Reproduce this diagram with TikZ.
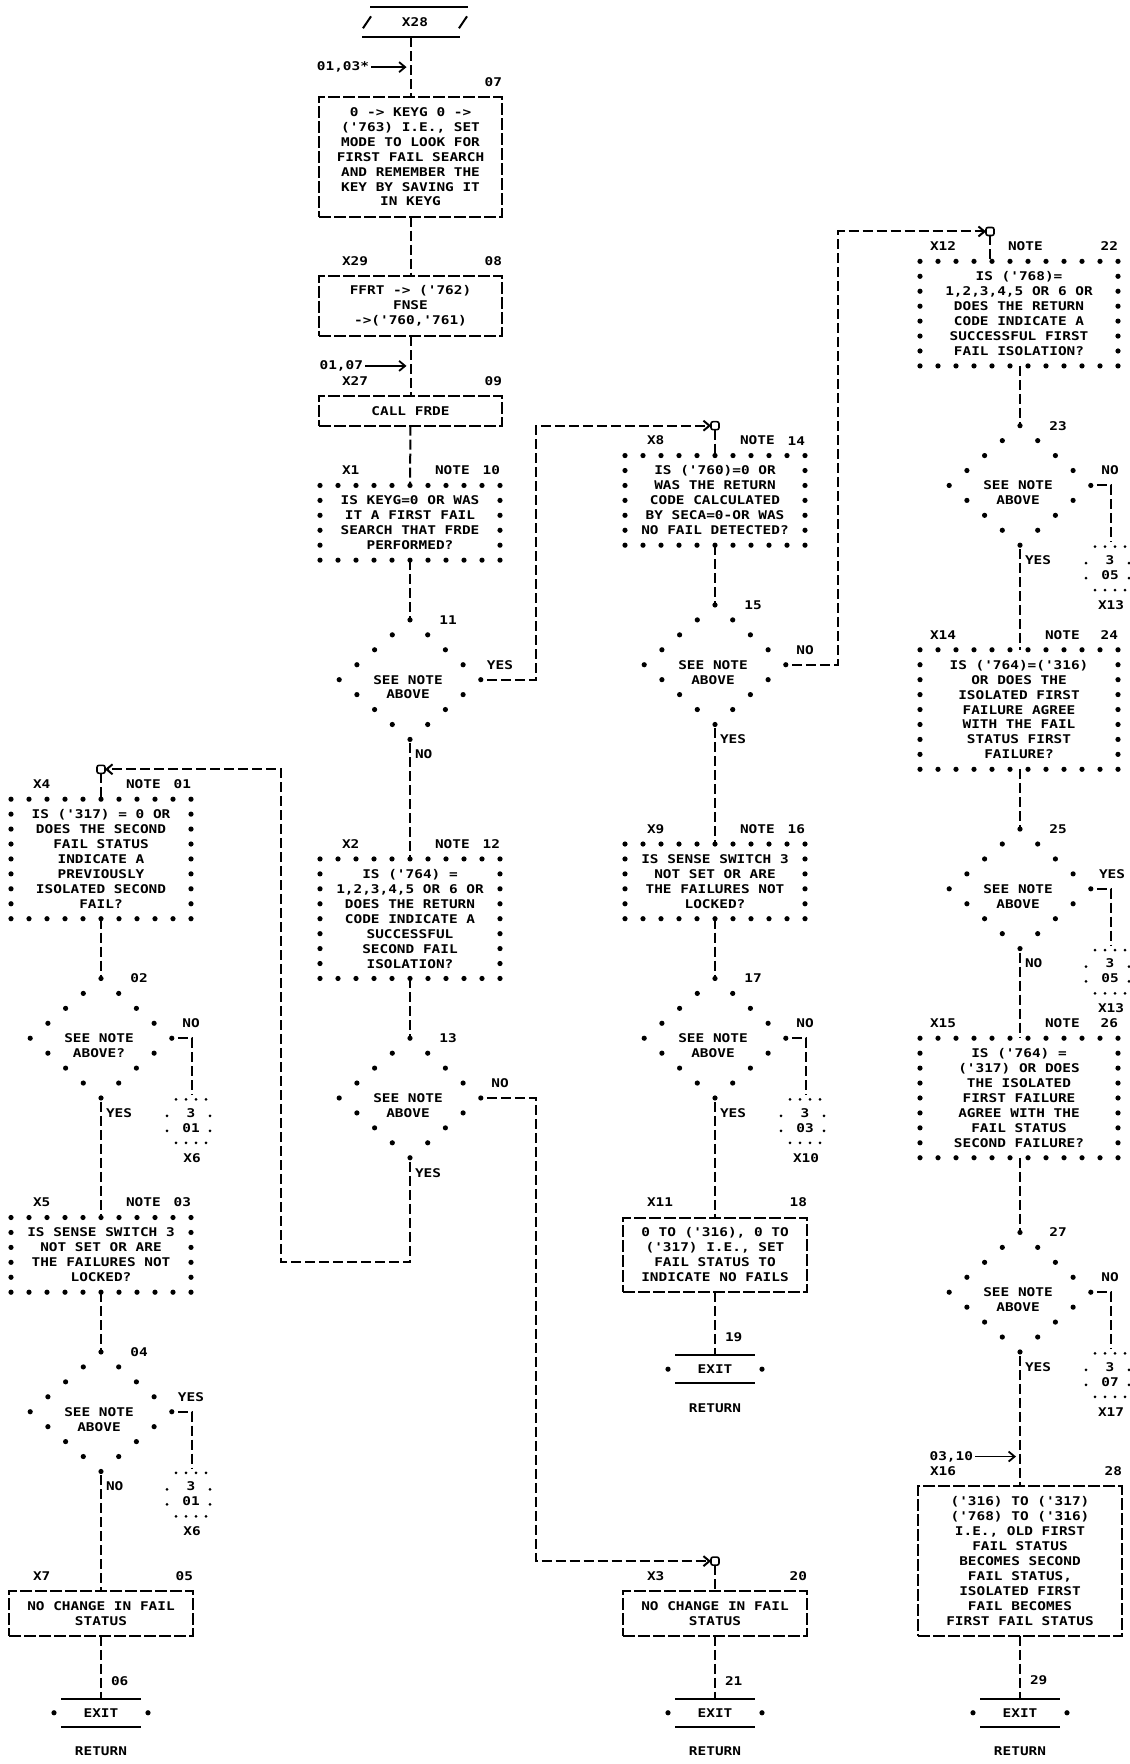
\documentclass[tikz,border=0pt]{standalone}
\usepackage{fontspec}
\newfontfamily\lpfont{DejaVu Sans Mono}[FakeStretch=1.2]
\usetikzlibrary{arrows.meta}
\newcommand{\ndots}[4]{%
  \foreach \ii in {0,...,#2}{%
    \fill ({#1+18*\ii},#3) circle[radius=1.3pt];
    \fill ({#1+18*\ii},#4) circle[radius=1.3pt];}
  \pgfmathtruncatemacro{\ra}{#3+1}%
  \pgfmathtruncatemacro{\rb}{#4-1}%
  \foreach \jj in {\ra,...,\rb}{%
    \fill (#1,\jj) circle[radius=1.3pt];
    \fill ({#1+18*#2},\jj) circle[radius=1.3pt];}%
}
\newcommand{\dmdots}[2]{%
  \fill (#1,{#2-4}) circle[radius=1.3pt];
  \fill (#1,{#2+4}) circle[radius=1.3pt];
  \foreach \kk/\dd in {1/17.7,2/35.4,3/53.1,4/70.8,5/53.1,6/35.4,7/17.7}{%
    \fill ({#1-\dd},{#2-4+\kk}) circle[radius=1.3pt];
    \fill ({#1+\dd},{#2-4+\kk}) circle[radius=1.3pt];}%
}
\newcommand{\offpg}[5]{%
  \coordinate (#1t) at ({#2+91},{#3+3.8});
  \node[align=center] (#1) at ({#2+90},{#3+5.5}) {3\\#4};
  \node (#1x) at ({#2+91},{#3+8}) {#5};
  \foreach \xx in {75,85,95,105}{%
    \fill ({#2+\xx},{#3+4.1}) circle[radius=0.75pt];
    \fill ({#2+\xx},{#3+7}) circle[radius=0.75pt];}
  \foreach \yy in {5.2,6.2}{%
    \fill ({#2+66},{#3+\yy}) circle[radius=0.75pt];
    \fill ({#2+109},{#3+\yy}) circle[radius=0.75pt];}%
}
\newcommand{\exitbox}[4]{%
  \node[minimum width=40pt, minimum height=14.2pt] (#1) at (#2,#3) {EXIT};
  \draw[line width=1pt] (#1.north west) -- (#1.north east);
  \draw[line width=1pt] (#1.south west) -- (#1.south east);
  \fill ([xshift=-3.5pt]#1.west) circle[radius=1.3pt];
  \fill ([xshift=3.5pt]#1.east) circle[radius=1.3pt];
  \node (#1r) at (#2,{#3+2.6}) {RETURN};
  \node[anchor=west] (#1n) at ({#2+10},{#3-2.15}) {#4};
}
\begin{document}
\begin{tikzpicture}[x=0.5pt,y=-7.47pt,
  every node/.style={font={\lpfont\bfseries\fontsize{6}{7.47}\selectfont}, inner sep=0pt, outer sep=0pt},
  conn/.style={line width=1pt, dash pattern=on 5pt off 2pt},
  pbox/.style={draw, line width=1pt, dash pattern=on 6pt off 1.5pt, align=center},
  nbox/.style={align=center, minimum width=90pt},
  dbox/.style={minimum width=70.8pt, minimum height=59.76pt},
  oc/.style={draw, solid, line width=0.8pt, minimum size=4pt, rounded corners=1pt},
  arr/.style={-{Straight Barb[length=3pt,width=5pt]}}]
\useasboundingbox (0,-6.4926) rectangle (1130,111.58);
\fill[white] (0,-6.4926) rectangle (1130,111.58);

% ===== Column A =====
\node[minimum width=49pt, minimum height=14.94pt] (t28) at (415,-5) {X28};
\draw[line width=1pt] (370,-6) -- (468,-6);
\draw[line width=1pt] (362,-4) -- (460,-4);
\draw[line width=1pt] (363,-4.6) -- (371,-5.4);
\draw[line width=1pt] (459,-4.6) -- (467,-5.4);
\node[anchor=east] (l1) at (369,-2) {01,03*};
\node[anchor=east] (n07) at (502,-1) {07};
\node[pbox, minimum width=91.5pt, minimum height=59.76pt] (b07) at (410.5,4) {0 -> KEYG 0 ->\\('763) I.E., SET\\MODE TO LOOK FOR\\FIRST FAIL SEARCH\\AND REMEMBER THE\\KEY BY SAVING IT\\IN KEYG};
\node[anchor=west] (x29) at (342,11) {X29};
\node[anchor=east] (n08) at (502,11) {08};
\node[pbox, minimum width=91.5pt, minimum height=29.88pt] (b08) at (410.5,14) {FFRT -> ('762)\\FNSE\\->('760,'761)};
\node[anchor=east] (l2) at (363,18) {01,07};
\node[anchor=west] (x27) at (342,19) {X27};
\node[anchor=east] (n09) at (502,19) {09};
\node[pbox, minimum width=91.5pt, minimum height=14.94pt] (b09) at (410.5,21) {CALL FRDE};
\node[anchor=west] (x1) at (342,25) {X1};
\node[anchor=west] (nt10) at (435,25) {NOTE};
\node[anchor=east] (nn10) at (500,25) {10};
\node[nbox, minimum height=37.35pt] (n10) at (410,28.5) {IS KEYG=0 OR WAS\\IT A FIRST FAIL\\SEARCH THAT FRDE\\PERFORMED?};
\ndots{320}{10}{26}{31}
\node[dbox] (d11) at (410,39) {};
\node[align=center] (d11t) at (408,39.5) {SEE NOTE\\ABOVE};
\dmdots{410}{39}
\node (dn11) at (448,35) {11};
\node (y11) at (500,38) {YES};
\node[anchor=west] (no11) at (415,44) {NO};
\node[anchor=west] (x2) at (342,50) {X2};
\node[anchor=west] (nt12) at (435,50) {NOTE};
\node[anchor=east] (nn12) at (500,50) {12};
\node[nbox, minimum height=59.76pt] (n12) at (410,55) {IS ('764) =\\1,2,3,4,5 OR 6 OR\\DOES THE RETURN\\CODE INDICATE A\\SUCCESSFUL\\SECOND FAIL\\ISOLATION?};
\ndots{320}{10}{51}{59}
\node[dbox] (d13) at (410,67) {};
\node[align=center] (d13t) at (408,67.5) {SEE NOTE\\ABOVE};
\dmdots{410}{67}
\node (dn13) at (448,63) {13};
\node (no13) at (500,66) {NO};
\node[anchor=west] (y13) at (415,72) {YES};

% ===== Column B =====
\node[oc] (o01) at (101,45) {};
\node[anchor=west] (x4) at (33,46) {X4};
\node[anchor=west] (nt01) at (126,46) {NOTE};
\node[anchor=east] (nn01) at (191,46) {01};
\node[nbox, minimum height=59.76pt] (n01) at (101,51) {IS ('317) = 0 OR\\DOES THE SECOND\\FAIL STATUS\\INDICATE A\\PREVIOUSLY\\ISOLATED SECOND\\FAIL?};
\ndots{11}{10}{47}{55}
\node[dbox] (d02) at (101,63) {};
\node[align=center] (d02t) at (99,63.5) {SEE NOTE\\ABOVE?};
\dmdots{101}{63}
\node (dn02) at (139,59) {02};
\node (no02) at (191,62) {NO};
\node[anchor=west] (y02) at (106,68) {YES};
\offpg{c02}{101}{63}{01}{X6}
\node[anchor=west] (x5) at (33,74) {X5};
\node[anchor=west] (nt03) at (126,74) {NOTE};
\node[anchor=east] (nn03) at (191,74) {03};
\node[nbox, minimum height=37.35pt] (n03) at (101,77.5) {IS SENSE SWITCH 3\\NOT SET OR ARE\\THE FAILURES NOT\\LOCKED?};
\ndots{11}{10}{75}{80}
\node[dbox] (d04) at (101,88) {};
\node[align=center] (d04t) at (99,88.5) {SEE NOTE\\ABOVE};
\dmdots{101}{88}
\node (dn04) at (139,84) {04};
\node (y04) at (191,87) {YES};
\node[anchor=west] (no04) at (106,93) {NO};
\offpg{c04}{101}{88}{01}{X6}
\node[anchor=west] (x7) at (33,99) {X7};
\node[anchor=east] (nn05) at (193,99) {05};
\node[pbox, minimum width=92pt, minimum height=22.41pt] (b05) at (101,101.5) {NO CHANGE IN FAIL\\STATUS};
\exitbox{e06}{101}{108.15}{06}

% ===== Column C =====
\node[oc] (o14) at (715,22) {};
\node[anchor=west] (x8) at (647,23) {X8};
\node[anchor=west] (nt14) at (740,23) {NOTE};
\node[anchor=east] (nn14) at (805,23) {14};
\node[nbox, minimum height=44.82pt] (n14) at (715,27) {IS ('760)=0 OR\\WAS THE RETURN\\CODE CALCULATED\\BY SECA=0-OR WAS\\NO FAIL DETECTED?};
\ndots{625}{10}{24}{30}
\node[dbox] (d15) at (715,38) {};
\node[align=center] (d15t) at (713,38.5) {SEE NOTE\\ABOVE};
\dmdots{715}{38}
\node (dn15) at (753,34) {15};
\node (no15) at (805,37) {NO};
\node[anchor=west] (y15) at (720,43) {YES};
\node[anchor=west] (x9) at (647,49) {X9};
\node[anchor=west] (nt16) at (740,49) {NOTE};
\node[anchor=east] (nn16) at (805,49) {16};
\node[nbox, minimum height=37.35pt] (n16) at (715,52.5) {IS SENSE SWITCH 3\\NOT SET OR ARE\\THE FAILURES NOT\\LOCKED?};
\ndots{625}{10}{50}{55}
\node[dbox] (d17) at (715,63) {};
\node[align=center] (d17t) at (713,63.5) {SEE NOTE\\ABOVE};
\dmdots{715}{63}
\node (dn17) at (753,59) {17};
\node (no17) at (805,62) {NO};
\node[anchor=west] (y17) at (720,68) {YES};
\offpg{c17}{715}{63}{03}{X10}
\node[anchor=west] (x11) at (647,74) {X11};
\node[anchor=east] (nn18) at (807,74) {18};
\node[pbox, minimum width=92pt, minimum height=37.35pt] (b18) at (715,77.5) {0 TO ('316), 0 TO\\('317) I.E., SET\\FAIL STATUS TO\\INDICATE NO FAILS};
\exitbox{e19}{715}{85.15}{19}
\node[oc] (o20) at (715,98) {};
\node[anchor=west] (x3) at (647,99) {X3};
\node[anchor=east] (nn20) at (807,99) {20};
\node[pbox, minimum width=92pt, minimum height=22.41pt] (b20) at (715,101.5) {NO CHANGE IN FAIL\\STATUS};
\exitbox{e21}{715}{108.15}{21}

% ===== Column D =====
\node[oc] (o22) at (990,9) {};
\node[anchor=west] (x12) at (930,10) {X12};
\node[anchor=west] (nt22) at (1008,10) {NOTE};
\node[anchor=east] (nn22) at (1118,10) {22};
\node[nbox, minimum width=99pt, minimum height=52.29pt] (n22) at (1019,14.5) {IS ('768)=\\1,2,3,4,5 OR 6 OR\\DOES THE RETURN\\CODE INDICATE A\\SUCCESSFUL FIRST\\FAIL ISOLATION?};
\ndots{920}{11}{11}{18}
\node[dbox] (d23) at (1020,26) {};
\node[align=center] (d23t) at (1018,26.5) {SEE NOTE\\ABOVE};
\dmdots{1020}{26}
\node (dn23) at (1058,22) {23};
\node (no23) at (1110,25) {NO};
\node[anchor=west] (y23) at (1025,31) {YES};
\offpg{c23}{1020}{26}{05}{X13}
\node[anchor=west] (x14) at (930,36) {X14};
\node[anchor=west] (nt24) at (1045,36) {NOTE};
\node[anchor=east] (nn24) at (1118,36) {24};
\node[nbox, minimum width=99pt, minimum height=59.76pt] (n24) at (1019,41) {IS ('764)=('316)\\OR DOES THE\\ISOLATED FIRST\\FAILURE AGREE\\WITH THE FAIL\\STATUS FIRST\\FAILURE?};
\ndots{920}{11}{37}{45}
\node[dbox] (d25) at (1020,53) {};
\node[align=center] (d25t) at (1018,53.5) {SEE NOTE\\ABOVE};
\dmdots{1020}{53}
\node (dn25) at (1058,49) {25};
\node (y25) at (1112,52) {YES};
\node[anchor=west] (no25) at (1025,58) {NO};
\offpg{c25}{1020}{53}{05}{X13}
\node[anchor=west] (x15) at (930,62) {X15};
\node[anchor=west] (nt26) at (1045,62) {NOTE};
\node[anchor=east] (nn26) at (1118,62) {26};
\node[nbox, minimum width=99pt, minimum height=59.76pt] (n26) at (1019,67) {IS ('764) =\\('317) OR DOES\\THE ISOLATED\\FIRST FAILURE\\AGREE WITH THE\\FAIL STATUS\\SECOND FAILURE?};
\ndots{920}{11}{63}{71}
\node[dbox] (d27) at (1020,80) {};
\node[align=center] (d27t) at (1018,80.5) {SEE NOTE\\ABOVE};
\dmdots{1020}{80}
\node (dn27) at (1058,76) {27};
\node (no27) at (1110,79) {NO};
\node[anchor=west] (y27) at (1025,85) {YES};
\offpg{c27}{1020}{80}{07}{X17}
\node[anchor=east] (l3) at (973,91) {03,10};
\node[anchor=west] (x16) at (930,92) {X16};
\node[anchor=east] (nn28) at (1122,92) {28};
\node[pbox, minimum width=102pt, minimum height=74.7pt] (b28) at (1020,98) {('316) TO ('317)\\('768) TO ('316)\\I.E., OLD FIRST\\FAIL STATUS\\BECOMES SECOND\\FAIL STATUS,\\ISOLATED FIRST\\FAIL BECOMES\\FIRST FAIL STATUS};
\exitbox{e29}{1020}{108.15}{29}

% ===== Connectors =====
\draw[conn] (t28.south -| b07.north) -- (b07.north);
\draw[line width=0.9pt, arr, shorten <=1pt, shorten >=2pt] (l1.east) -- (l1.east -| b07.north);
\draw[conn] (b07.south) -- (b08.north);
\draw[conn] (b08.south) -- (b09.north);
\draw[line width=0.9pt, arr, shorten <=1pt, shorten >=2pt] (l2.east) -- (l2.east -| b09.north);
\draw[conn] (b09.south) -- (n10.north);
\draw[conn] (n10.south) -- (d11.north);
\draw[conn, shorten <=2pt] (d11.south) -- (n12.north);
\draw[conn] (n12.south) -- (d13.north);
\draw[conn, arr, shorten <=3pt] (d11.east) -- (536,39) -- (536,22) -- (o14.west);
\draw[conn, arr, shorten <=3pt] (d13.east) -- (536,67) -- (536,98) -- (o20.west);
\draw[conn, arr, shorten <=2pt] (d13.south) -- (410,78) -- (281,78) -- (281,45) -- (o01.east);

\draw[conn] (o01.south) -- (n01.north);
\draw[conn] (n01.south) -- (d02.north);
\draw[conn, shorten <=3pt] (d02.east) -| (c02t);
\draw[conn, shorten <=2pt] (d02.south) -- (n03.north);
\draw[conn] (n03.south) -- (d04.north);
\draw[conn, shorten <=3pt] (d04.east) -| (c04t);
\draw[conn, shorten <=2pt] (d04.south) -- (b05.north);
\draw[conn] (b05.south) -- (e06.north);

\draw[conn] (o14.south) -- (n14.north);
\draw[conn] (n14.south) -- (d15.north);
\draw[conn, arr, shorten <=3pt] (d15.east) -- (838,38) -- (838,9) -- (o22.west);
\draw[conn, shorten <=2pt] (d15.south) -- (n16.north);
\draw[conn] (n16.south) -- (d17.north);
\draw[conn, shorten <=3pt] (d17.east) -| (c17t);
\draw[conn, shorten <=2pt] (d17.south) -- (b18.north);
\draw[conn] (b18.south) -- (e19.north);
\draw[conn] (o20.south) -- (b20.north);
\draw[conn] (b20.south) -- (e21.north);

\draw[conn] (o22.south) -- (o22.south |- n22.north);
\draw[conn] (n22.south -| d23.north) -- (d23.north);
\draw[conn, shorten <=3pt] (d23.east) -| (c23t);
\draw[conn, shorten <=2pt] (d23.south) -- (n24.north -| d23.south);
\draw[conn] (n24.south -| d25.north) -- (d25.north);
\draw[conn, shorten <=3pt] (d25.east) -| (c25t);
\draw[conn, shorten <=2pt] (d25.south) -- (n26.north -| d25.south);
\draw[conn] (n26.south -| d27.north) -- (d27.north);
\draw[conn, shorten <=3pt] (d27.east) -| (c27t);
\draw[conn, shorten <=2pt] (d27.south) -- (b28.north);
\draw[line width=0.9pt, arr, shorten <=1pt, shorten >=2pt] (l3.east) -- (l3.east -| b28.north);
\draw[conn] (b28.south) -- (e29.north);
\end{tikzpicture}
\end{document}
